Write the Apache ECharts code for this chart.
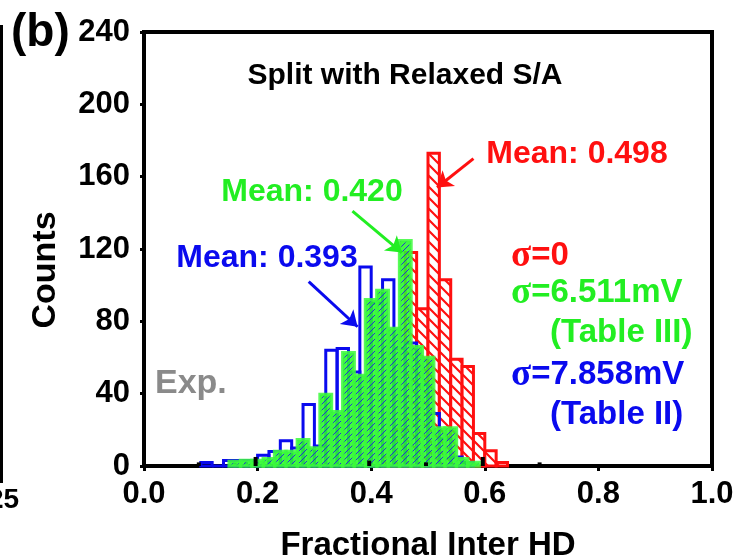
<!DOCTYPE html>
<html>
<head>
<meta charset="utf-8">
<script src="https://cdn.jsdelivr.net/npm/echarts@6/dist/echarts.min.js"></script>
<style>
  html, body { margin: 0; padding: 0; background: #fff; }
  #chart { width: 736px; height: 559px; }
</style>
</head>
<body>
<div id="chart"></div>
<script>
// histogram data, bin width 0.02, value = bin start
const binWidth = 0.02
const redStarts = [0.42, 0.44, 0.46, 0.48, 0.50, 0.52, 0.54, 0.56, 0.58, 0.60, 0.62]
const redCounts = [5, 20, 118, 87, 173, 103, 59, 55, 18, 8.5, 2]
const blueStarts = [0.10, 0.12, 0.14, 0.16, 0.18, 0.20, 0.22, 0.24, 0.26, 0.28, 0.30, 0.32,
    0.34, 0.36, 0.38, 0.40, 0.42, 0.44, 0.46, 0.48, 0.50, 0.52, 0.54, 0.56]
const blueCounts = [2, 0, 3, 3, 3, 6, 8, 14, 10, 34, 11, 64, 65, 52, 110, 90, 103, 65, 68, 45, 29, 15, 5, 2]
const greenStarts = [0.15, 0.17, 0.19, 0.21, 0.23, 0.25, 0.27, 0.29, 0.31, 0.33, 0.35,
    0.37, 0.39, 0.41, 0.43, 0.45, 0.47, 0.49, 0.51, 0.53, 0.55, 0.57]
const greenCounts = [2.5, 3, 3, 4, 8, 8, 14.5, 10, 39.6, 30, 62.6, 50, 92, 97, 76, 124.5, 66, 60, 21, 21, 4, 2]
// experimental histogram, only tiny slivers show at the baseline
const expStarts = [0.093, 0.193, 0.393, 0.493, 0.593, 0.693]
const expEnds = [0.1, 0.2, 0.4, 0.5, 0.6, 0.7]
const expCounts = [2, 5, 3, 2, 5, 2]
// mean arrows [x0, y0, x1, y1]
const arrowBlue = [0.29, 102, 0.376, 77]
const arrowGreen = [0.367, 141, 0.454, 118]
const arrowRed = [0.58, 170, 0.516, 154]

const xTicks = [0, 0.2, 0.4, 0.6, 0.8, 1.0]
const yTicks = [0, 40, 80, 120, 160, 200, 240]

const FONT = 'Liberation Sans'
const RED = '#ff1010'
const GREEN = '#22ee22'
const BLUE = '#0a0aee'

function makePattern(bg, line, size, dir, lw) {
    const c = document.createElement('canvas')
    c.width = size
    c.height = size
    const ctx = c.getContext('2d')
    if (bg) {
        ctx.fillStyle = bg
        ctx.fillRect(0, 0, size, size)
    }
    ctx.strokeStyle = line
    ctx.lineWidth = lw
    ctx.beginPath()
    if (dir === '\\') {
        ctx.moveTo(-1, -1); ctx.lineTo(size + 1, size + 1)
        ctx.moveTo(-1 - size, -1); ctx.lineTo(1, size + 1)
        ctx.moveTo(size - 1, -1); ctx.lineTo(2 * size + 1, size + 1)
    } else {
        ctx.moveTo(-1, size + 1); ctx.lineTo(size + 1, -1)
        ctx.moveTo(-1 - size, size + 1); ctx.lineTo(1, -1)
        ctx.moveTo(size - 1, size + 1); ctx.lineTo(2 * size + 1, -1)
    }
    ctx.stroke()
    return { image: c, repeat: 'repeat' }
}

const redPattern = makePattern('#ffffff', RED, 11, '\\', 2.2)
const greenPattern = makePattern('rgba(40,250,40,0.88)', 'rgba(30,30,230,0.9)', 6, '/', 1)

const toBins = (starts, counts) => starts.map((s, i) => [s, s + binWidth, counts[i]])

function histSeries(name, data, style, z) {
    return {
        type: 'custom',
        name: name,
        z: z,
        data: data,
        encode: { x: [0, 1], y: 2 },
        renderItem: (params, api) => {
            const p0 = api.coord([api.value(0), api.value(2)])
            const p1 = api.coord([api.value(1), 0])
            return {
                type: 'rect',
                shape: { x: p0[0], y: p0[1], width: p1[0] - p0[0], height: p1[1] - p0[1] },
                style: style
            }
        }
    }
}

function arrowSeries(a, color) {
    return {
        type: 'lines',
        coordinateSystem: 'cartesian2d',
        z: 10,
        symbol: ['none', 'arrow'],
        symbolSize: 15,
        lineStyle: { color: color, width: 3, opacity: 1 },
        data: [{ coords: [[a[0], a[1]], [a[2], a[3]]] }]
    }
}

const chart = echarts.init(document.getElementById('chart'))

const txt = (color, size, text, extra) =>
    Object.assign({ fill: color, fontSize: size, fontWeight: 'bold', fontFamily: FONT, text: text }, extra || {})
const sigma = color => ({ s: { fontFamily: 'Liberation Serif', fontSize: 37, fontWeight: 'bold', fill: color } })

const option = {
    animation: false,
    grid: {
        left: 144, right: 24, top: 32, bottom: 93,
        outerBoundsMode: 'none',
        containLabel: false,
        show: true, borderColor: '#000', borderWidth: 4, backgroundColor: 'transparent'
    },
    xAxis: {
        type: 'value',
        min: xTicks[0], max: xTicks[xTicks.length - 1], interval: 0.2,
        name: 'Fractional Inter HD',
        nameLocation: 'middle', nameGap: 63,
        nameTextStyle: { fontSize: 33, fontWeight: 'bold', fontFamily: FONT, color: '#000' },
        axisLine: { lineStyle: { color: '#000', width: 4 } },
        axisTick: { show: true, inside: false, length: 5, lineStyle: { color: '#000', width: 3 } },
        axisLabel: {
            fontSize: 31, fontWeight: 'bold', fontFamily: FONT, color: '#000', margin: 13,
            formatter: v => v.toFixed(1)
        },
        splitLine: { show: false }
    },
    yAxis: {
        type: 'value',
        min: yTicks[0], max: yTicks[yTicks.length - 1], interval: 40,
        axisLine: { show: true, lineStyle: { color: '#000', width: 4 } },
        axisTick: { show: true, inside: false, length: 4, lineStyle: { color: '#000', width: 3 } },
        axisLabel: { fontSize: 31, fontWeight: 'bold', fontFamily: FONT, color: '#000', margin: 14 },
        splitLine: { show: false }
    },
    series: [
        histSeries('σ=0', toBins(redStarts, redCounts),
            { fill: redPattern, stroke: RED, lineWidth: 3 }, 2),
        histSeries('σ=7.858mV', toBins(blueStarts, blueCounts),
            { fill: 'rgba(255,255,255,0)', stroke: BLUE, lineWidth: 3 }, 3),
        histSeries('σ=6.511mV', toBins(greenStarts, greenCounts),
            { fill: greenPattern, stroke: 'rgba(60,250,60,0.85)', lineWidth: 3.5 }, 4),
        histSeries('Exp.', expStarts.map((s, i) => [s, expEnds[i], expCounts[i]]),
            { fill: '#000', stroke: null }, 5),
        arrowSeries(arrowBlue, BLUE),
        arrowSeries(arrowGreen, GREEN),
        arrowSeries(arrowRed, RED)
    ],
    graphic: [
        { type: 'line', shape: { x1: 1.5, y1: 25, x2: 1.5, y2: 483 }, style: { stroke: '#000', lineWidth: 3 } },
        { type: 'text', x: -12, y: 500, style: txt('#000', 28, '25', { verticalAlign: 'middle' }) },
        { type: 'text', x: 11, y: 33, style: txt('#000', 46, '(b)', { verticalAlign: 'middle' }) },
        { type: 'text', x: 46, y: 270, rotation: Math.PI / 2, style: txt('#000', 34, 'Counts', { align: 'center', verticalAlign: 'middle' }) },
        { type: 'text', x: 405, y: 76, style: txt('#000', 30, 'Split with Relaxed S/A', { align: 'center', verticalAlign: 'middle' }) },
        { type: 'text', x: 577, y: 154, style: txt(RED, 32, 'Mean: 0.498', { align: 'center', verticalAlign: 'middle' }) },
        { type: 'text', x: 312, y: 192, style: txt(GREEN, 32, 'Mean: 0.420', { align: 'center', verticalAlign: 'middle' }) },
        { type: 'text', x: 267, y: 258, style: txt(BLUE, 32, 'Mean: 0.393', { align: 'center', verticalAlign: 'middle' }) },
        { type: 'text', x: 155, y: 384, style: txt('#8a8a8a', 34, 'Exp.', { verticalAlign: 'middle' }) },
        { type: 'text', x: 511, y: 256, style: txt(RED, 33, '{s|σ}=0', { verticalAlign: 'middle', rich: sigma(RED) }) },
        { type: 'text', x: 511, y: 293, style: txt(GREEN, 33, '{s|σ}=6.511mV', { verticalAlign: 'middle', rich: sigma(GREEN) }) },
        { type: 'text', x: 550, y: 333, style: txt(GREEN, 33, '(Table III)', { verticalAlign: 'middle' }) },
        { type: 'text', x: 511, y: 375, style: txt(BLUE, 33, '{s|σ}=7.858mV', { verticalAlign: 'middle', rich: sigma(BLUE) }) },
        { type: 'text', x: 550, y: 415, style: txt(BLUE, 33, '(Table II)', { verticalAlign: 'middle' }) }
    ]
}

chart.setOption(option)
</script>
</body>
</html>
